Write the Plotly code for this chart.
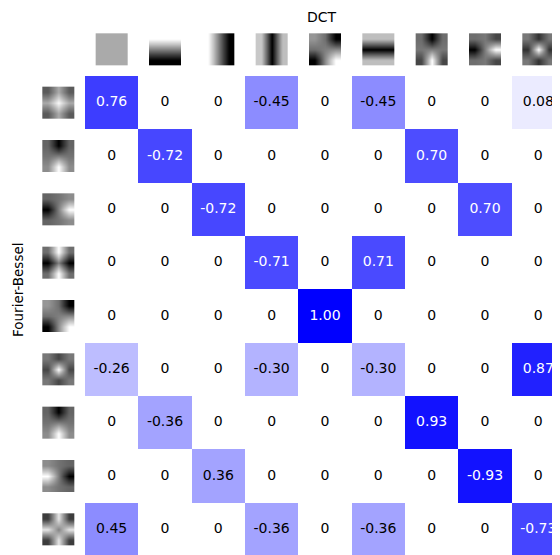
import plotly.graph_objects as go

# Correlation values: rows = Fourier-Bessel basis, columns = DCT basis
values = [
    [0.76, 0, 0, -0.45, 0, -0.45, 0, 0, 0.08],
    [0, -0.72, 0, 0, 0, 0, 0.70, 0, 0],
    [0, 0, -0.72, 0, 0, 0, 0, 0.70, 0],
    [0, 0, 0, -0.71, 0, 0.71, 0, 0, 0],
    [0, 0, 0, 0, 1.00, 0, 0, 0, 0],
    [-0.26, 0, 0, -0.30, 0, -0.30, 0, 0, 0.87],
    [0, -0.36, 0, 0, 0, 0, 0.93, 0, 0],
    [0, 0, 0.36, 0, 0, 0, 0, -0.93, 0],
    [0.45, 0, 0, -0.36, 0, -0.36, 0, 0, -0.73],
]

# 3x3 gray-level thumbnails (0=black, 255=white)
dct_thumbs = [
    [[170, 170, 170], [170, 170, 170], [170, 170, 170]],
    [[255, 255, 255], [128, 128, 128], [0, 0, 0]],
    [[255, 128, 0], [255, 128, 0], [255, 128, 0]],
    [[200, 0, 190], [200, 0, 190], [200, 0, 190]],
    [[150, 110, 0], [110, 128, 140], [0, 140, 255]],
    [[190, 190, 190], [0, 0, 0], [190, 190, 190]],
    [[110, 0, 110], [120, 128, 120], [70, 255, 70]],
    [[110, 120, 70], [0, 128, 255], [110, 120, 70]],
    [[120, 50, 120], [50, 255, 50], [120, 50, 120]],
]
fb_thumbs = [
    [[90, 170, 90], [170, 250, 170], [90, 170, 90]],
    [[100, 0, 100], [115, 128, 115], [140, 255, 140]],
    [[100, 115, 140], [0, 128, 255], [100, 115, 140]],
    [[110, 255, 110], [0, 128, 0], [110, 255, 110]],
    [[150, 110, 0], [110, 128, 140], [0, 140, 255]],
    [[120, 70, 120], [70, 255, 70], [120, 70, 120]],
    [[100, 0, 100], [115, 128, 115], [140, 255, 140]],
    [[140, 115, 100], [255, 128, 0], [140, 115, 100]],
    [[60, 230, 60], [230, 130, 230], [60, 230, 60]],
]

n = len(values)
CELL = 480 / 9.0  # pixels per cell
W, H = 560, 555
GX, GY = 77, 68   # figure-pixel position of grid's top-left corner

fig = go.Figure()

absz = [[abs(v) for v in row] for row in values]
fig.add_trace(go.Heatmap(
    z=absz, x0=0.5, dx=1, y0=0.5, dy=1, zmin=0, zmax=1,
    colorscale=[[0, "#ffffff"], [1, "#0000ff"]],
    showscale=False, hoverinfo="skip",
))

xs, ys, txt, cols = [], [], [], []
for r, row in enumerate(values):
    for c, v in enumerate(row):
        xs.append(c + 0.5)
        ys.append(r + 0.5)
        txt.append("0" if v == 0 else f"{v:.2f}")
        cols.append("white" if abs(v) > 0.5 else "black")
fig.add_trace(go.Scatter(
    x=xs, y=ys, text=txt, mode="text",
    textfont=dict(family="DejaVu Sans", size=14, color=cols),
    hoverinfo="skip", showlegend=False, cliponaxis=False,
))

gray = [[0, "#000000"], [1, "#ffffff"]]
TS = 0.6  # thumbnail size in cell units
for i, th in enumerate(dct_thumbs):
    fig.add_trace(go.Heatmap(
        z=th, x0=i + 0.5 - TS / 3, dx=TS / 3, y0=-0.2 - TS + TS / 6, dy=TS / 3,
        zmin=0, zmax=255, colorscale=gray, showscale=False, zsmooth="best",
        hoverinfo="skip",
    ))
for i, th in enumerate(fb_thumbs):
    fig.add_trace(go.Heatmap(
        z=th, x0=-0.5 - TS / 3, dx=TS / 3, y0=i + 0.5 - TS / 3, dy=TS / 3,
        zmin=0, zmax=255, colorscale=gray, showscale=False, zsmooth="best",
        hoverinfo="skip",
    ))

fig.update_layout(
    width=W, height=H,
    margin=dict(l=0, r=0, t=0, b=0),
    paper_bgcolor="white", plot_bgcolor="white",
    showlegend=False,
    xaxis=dict(range=[-GX / CELL, (W - GX) / CELL], visible=False, fixedrange=True),
    yaxis=dict(range=[(H - GY) / CELL, -GY / CELL], visible=False, fixedrange=True),
    font=dict(family="DejaVu Sans", color="black"),
    annotations=[
        dict(text="DCT", x=314 / W, y=1, xref="paper", yref="paper",
             showarrow=False, xanchor="center", yanchor="top", borderpad=0,
             font=dict(size=14, family="DejaVu Sans")),
        dict(text="Fourier-Bessel", x=10 / W, y=1 - 282 / H, xref="paper", yref="paper",
             showarrow=False, xanchor="center", yanchor="middle", textangle=-90,
             font=dict(size=13.5, family="DejaVu Sans")),
    ],
)

fig.write_html("out.html")
